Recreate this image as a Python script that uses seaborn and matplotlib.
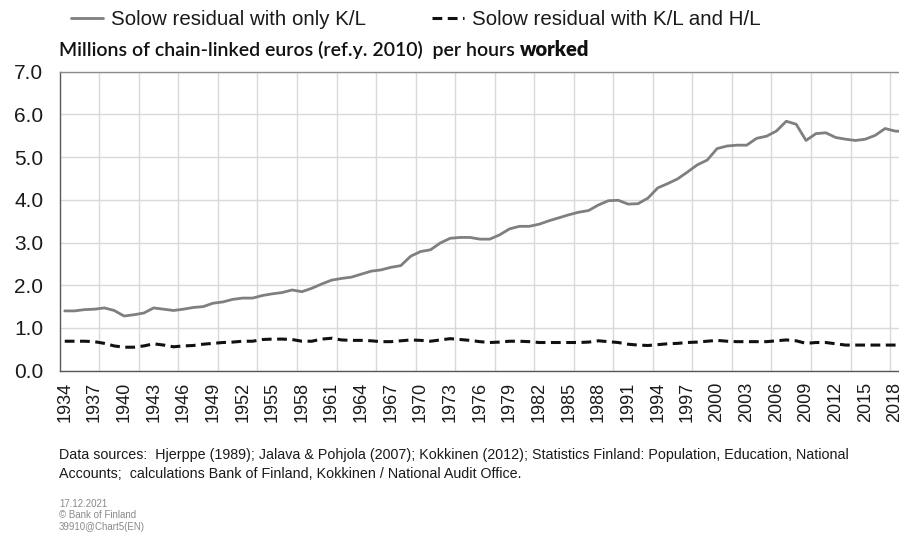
import numpy as np
import pandas as pd
import matplotlib
matplotlib.use("Agg")
import matplotlib.pyplot as plt
from matplotlib.lines import Line2D
from matplotlib.ticker import FixedLocator, FixedFormatter
import seaborn as sns

years = list(range(1934, 2020))

solow_kl = [
    1.40, 1.40, 1.43, 1.44, 1.47, 1.41, 1.28, 1.31, 1.35, 1.47,
    1.44, 1.41, 1.44, 1.48, 1.50, 1.58, 1.61, 1.67, 1.70, 1.70,
    1.76, 1.80, 1.83, 1.89, 1.85, 1.93, 2.03, 2.12, 2.16, 2.19,
    2.26, 2.33, 2.36, 2.42, 2.46, 2.68, 2.79, 2.83, 2.99, 3.10,
    3.12, 3.12, 3.08, 3.08, 3.18, 3.32, 3.38, 3.38, 3.43, 3.51,
    3.58, 3.65, 3.71, 3.75, 3.88, 3.98, 3.99, 3.90, 3.91, 4.04,
    4.28, 4.38, 4.49, 4.65, 4.82, 4.93, 5.20, 5.26, 5.28, 5.28,
    5.44, 5.49, 5.61, 5.84, 5.77, 5.39, 5.55, 5.57, 5.46, 5.42,
    5.39, 5.42, 5.51, 5.67, 5.61, 5.60,
]

solow_kl_hl = [
    0.69, 0.69, 0.69, 0.68, 0.64, 0.58, 0.55, 0.55, 0.58, 0.63,
    0.60, 0.56, 0.58, 0.59, 0.62, 0.64, 0.66, 0.67, 0.69, 0.69,
    0.73, 0.74, 0.74, 0.73, 0.69, 0.69, 0.74, 0.76, 0.72, 0.71,
    0.71, 0.70, 0.68, 0.68, 0.70, 0.72, 0.71, 0.69, 0.72, 0.75,
    0.73, 0.71, 0.68, 0.66, 0.67, 0.69, 0.69, 0.68, 0.66, 0.66,
    0.66, 0.66, 0.66, 0.67, 0.70, 0.68, 0.66, 0.62, 0.60, 0.59,
    0.61, 0.63, 0.64, 0.66, 0.67, 0.69, 0.71, 0.69, 0.68, 0.68,
    0.68, 0.68, 0.70, 0.72, 0.70, 0.64, 0.66, 0.66, 0.63, 0.60,
    0.60, 0.60, 0.60, 0.60, 0.60, 0.60,
]

series_names = ["Solow residual with only K/L", "Solow residual with K/L and H/L"]
tick_years = list(range(1934, 2019, 3))
y_ticks = [0, 1, 2, 3, 4, 5, 6, 7]
y_labels = ["0.0", "1.0", "2.0", "3.0", "4.0", "5.0", "6.0", "7.0"]
title_main = "Millions of chain-linked euros (ref.y. 2010)  per hours "
title_bold = "worked"
source_lines = [
    "Data sources:  Hjerppe (1989); Jalava & Pohjola (2007); Kokkinen (2012); Statistics Finland: Population, Education, National",
    "Accounts;  calculations Bank of Finland, Kokkinen / National Audit Office.",
]
stamp_lines = ["17.12.2021", "\u00a9 Bank of Finland", "39910@Chart5(EN)"]

sns.set_theme(style="white")
plt.rcParams["font.family"] = ["Liberation Sans", "DejaVu Sans"]

W, H = 899, 535
fig = plt.figure(figsize=(W / 100, H / 100), dpi=100)

left_px, right_px = 59.8, 899.0
top_px, bot_px = 71.7, 370.7
ax = fig.add_axes([left_px / W, 1 - bot_px / H, (right_px - left_px) / W, (bot_px - top_px) / H])

df = pd.DataFrame({
    "year": years * 2,
    "value": solow_kl + solow_kl_hl,
    "series": [series_names[0]] * len(years) + [series_names[1]] * len(years),
})

dash = (0, (3.2, 1.8))
sns.lineplot(data=df[df.series == series_names[0]], x="year", y="value", ax=ax,
             color="#7f7f7f", linewidth=2.0, legend=False)
sns.lineplot(data=df[df.series == series_names[1]], x="year", y="value", ax=ax,
             color="#111111", linewidth=2.2, linestyle=dash, legend=False)

px_per_year = 9.884
ax.set_xlim(1933.5, 1933.5 + (right_px - left_px) / px_per_year)
ax.set_ylim(0, 7)

ax.xaxis.set_major_locator(FixedLocator(tick_years))
ax.xaxis.set_major_formatter(FixedFormatter([str(y) for y in tick_years]))
ax.xaxis.set_minor_locator(FixedLocator([y + 0.5 for y in range(1937, 2019, 4)]))
ax.yaxis.set_major_locator(FixedLocator(y_ticks))
ax.yaxis.set_major_formatter(FixedFormatter(y_labels))

ax.grid(False)
ax.grid(which="minor", axis="x", color="#d9d9d9", linewidth=1.0)
ax.grid(which="major", axis="y", color="#d9d9d9", linewidth=1.0)
ax.set_axisbelow(True)

ax.tick_params(axis="x", which="both", length=0, pad=8, labelrotation=90,
               labelsize=13, labelcolor="#1a1a1a")
ax.tick_params(axis="y", which="both", length=0, pad=12, labelsize=15, labelcolor="#1a1a1a")

for s in ["left", "bottom", "top"]:
    ax.spines[s].set_visible(True)
    ax.spines[s].set_linewidth(1.0)
ax.spines["left"].set_color("#595959")
ax.spines["bottom"].set_color("#595959")
ax.spines["top"].set_color("#8c8c8c")
ax.spines["right"].set_visible(False)
ax.set_xlabel("")
ax.set_ylabel("")

handles = [
    Line2D([], [], color="#7f7f7f", linewidth=2.0),
    Line2D([], [], color="#111111", linewidth=2.2, linestyle=dash),
]
fig.legend(handles, series_names, loc="upper left", bbox_to_anchor=(71 / W, 1 - 10 / H),
           ncol=2, frameon=False, fontsize=14.8, handlelength=1.55, handletextpad=0.4,
           columnspacing=3.2, borderpad=0, borderaxespad=0, labelcolor="#1a1a1a")

t1 = fig.text(59 / W, 1 - 50 / H, title_main, fontsize=14, fontweight="semibold",
              family=["Lato", "DejaVu Sans"], va="center", ha="left", color="#111111")
fig.canvas.draw()
bb = t1.get_window_extent()
fig.text(bb.x1 / W, 1 - 50 / H, title_bold, fontsize=14.5, fontweight="heavy",
         family=["Lato", "DejaVu Sans"], va="center", ha="left", color="#111111")

fig.text(59 / W, 1 - 455 / H, source_lines[0], fontsize=10.3, color="#1a1a1a", va="center")
fig.text(59 / W, 1 - 474 / H, source_lines[1], fontsize=10.3, color="#1a1a1a", va="center")
for i, s in enumerate(stamp_lines):
    fig.text(59 / W, 1 - (504 + 11.5 * i) / H, s, fontsize=7, color="#8a8a8a", va="center")

fig.savefig("out.png", dpi=100)
